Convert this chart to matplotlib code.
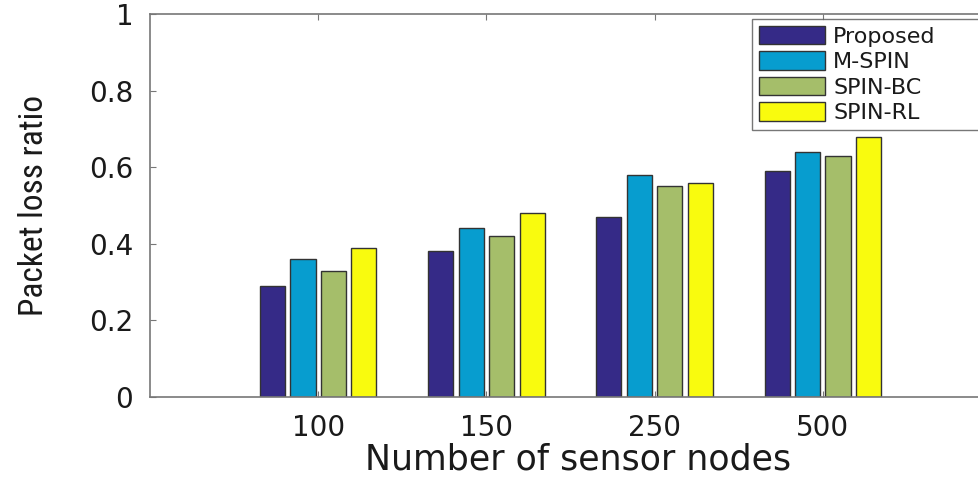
import matplotlib
matplotlib.use("Agg")
import matplotlib.pyplot as plt
from matplotlib import font_manager
import numpy as np

categories = ["100", "150", "250", "500"]
series_names = ["Proposed", "M-SPIN", "SPIN-BC", "SPIN-RL"]
proposed = [0.29, 0.38, 0.47, 0.59]
m_spin = [0.36, 0.44, 0.58, 0.64]
spin_bc = [0.33, 0.42, 0.55, 0.63]
spin_rl = [0.39, 0.48, 0.56, 0.68]
yticks = [0, 0.2, 0.4, 0.6, 0.8, 1]
ytick_labels = ["0", "0.2", "0.4", "0.6", "0.8", "1"]

colors = ["#352a87", "#079dcf", "#a5be6a", "#f9fb0e"]
series = [proposed, m_spin, spin_bc, spin_rl]

avail = {f.name for f in font_manager.fontManager.ttflist}
def pick(cands):
    for c in cands:
        if c in avail:
            return c
    return "DejaVu Sans"
narrow = pick(["Liberation Sans Narrow", "DejaVu Sans Condensed", "Roboto Condensed", "Liberation Sans"])
wide = "DejaVu Sans"

W, H = 979, 479
fig = plt.figure(figsize=(W / 100, H / 100), dpi=100)
ax = fig.add_axes([150 / W, (479 - 397) / H, (991 - 150) / W, (397 - 14) / H])

x = np.arange(1, len(categories) + 1)
pitch = 0.181
bw = 0.149
for i, (vals, name, col) in enumerate(zip(series, series_names, colors)):
    ax.bar(x + (i - 1.5) * pitch, vals, width=bw, color=col, edgecolor="#333333",
           linewidth=1.0, label=name, zorder=2)

ax.set_xlim(0, 5)
ax.set_ylim(0, 1)
ax.set_xticks(x)
ax.set_xticklabels(categories, fontsize=20, family=wide, color="#1a1a1a")
ax.set_yticks(yticks)
ax.set_yticklabels(ytick_labels, fontsize=20, family=wide, color="#1a1a1a")
ax.tick_params(axis="both", direction="in", length=4, width=0.8, color="#777777")
ax.tick_params(axis="x", top=True, pad=12)
ax.tick_params(axis="y", pad=12)
for s in ["left", "bottom", "top", "right"]:
    ax.spines[s].set_color("#777777")
    ax.spines[s].set_linewidth(1.2)

ax.set_xlabel("Number of sensor nodes", fontsize=25, family=wide, color="#1a1a1a")
ax.xaxis.set_label_coords((578 - 150) / 841, (397 - 443) / 383)
ax.set_ylabel("Packet loss ratio", fontsize=24, family=narrow, color="#1a1a1a")
ax.yaxis.set_label_coords((50 - 150) / 841, (397 - 205) / 383)

leg = ax.legend(loc="upper left", bbox_to_anchor=(752 / W, 1 - 19 / H, 240 / W, 0),
                bbox_transform=fig.transFigure, mode="expand", borderaxespad=0,
                prop={"family": wide, "size": 16},
                handlelength=3.0, handleheight=0.92, handletextpad=0.35,
                labelspacing=0.2, borderpad=0.3, fancybox=False, frameon=True)
leg.get_frame().set_edgecolor("#555555")
leg.get_frame().set_linewidth(1.0)
for t in leg.get_texts():
    t.set_color("#1a1a1a")

fig.savefig("out.png", dpi=100)
